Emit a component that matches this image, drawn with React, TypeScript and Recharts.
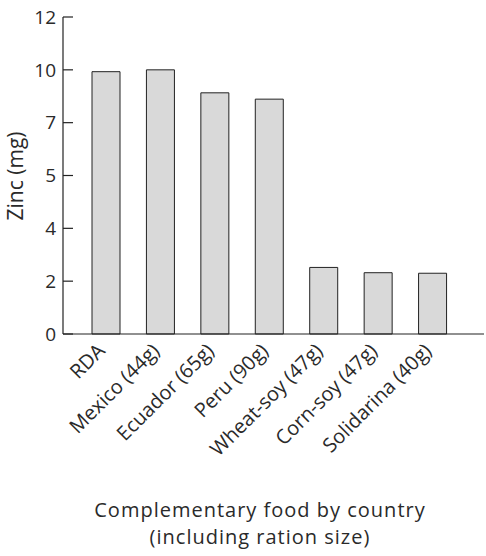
import React from 'react';
import { BarChart, Bar, XAxis, YAxis, Label } from 'recharts';

// categories along the x axis (rotated labels)
const categories = [
  'RDA',
  'Mexico (44g)',
  'Ecuador (65g)',
  'Peru (90g)',
  'Wheat-soy (47g)',
  'Corn-soy (47g)',
  'Solidarina (40g)'
];

// zinc content in mg
const zincValues = [9.93, 10.0, 9.13, 8.89, 2.52, 2.32, 2.3];

// the y axis is evenly spaced 0..12, but printed with these labels
const yTickValues = [0, 2, 4, 6, 8, 10, 12];
const yTickLabels = ['0', '2', '4', '5', '7', '10', '12'];

// x axis title, two lines
const xTitleLines = ['Complementary food by country', '(including ration size)'];

const FONT = '"Open Sans", sans-serif';
const INK = '#222';
const TEXT = '#2a2a2a';

const data = categories.map((name, i) => ({ name, zinc: zincValues[i] }));

const RotatedTick = (props: any) => {
  const { x, y, payload } = props;
  return (
    <g transform={`translate(${x},${y})`}>
      <text
        x={0}
        y={0}
        textAnchor="end"
        transform="rotate(-45)"
        fill={TEXT}
        fontSize={20}
        fontFamily={FONT}
      >
        {payload.value}
      </text>
    </g>
  );
};

const XTitle = () => (
  <g>
    {xTitleLines.map((line, i) => (
      <text
        key={line}
        x={260}
        y={517 + i * 27}
        textAnchor="middle"
        fill={TEXT}
        fontSize={20}
        letterSpacing={1}
        fontFamily={FONT}
      >
        {line}
      </text>
    ))}
  </g>
);

const YTitle = () => (
  <text
    x={23}
    y={176}
    textAnchor="middle"
    transform="rotate(-90, 23, 176)"
    fill={TEXT}
    fontSize={21}
    fontFamily={FONT}
  >
    Zinc (mg)
  </text>
);

const App: React.FC = () => {
  return (
    <div style={{ position: 'absolute', left: 0, top: 0, background: '#fff' }}>
      <BarChart
        width={486}
        height={556}
        data={data}
        margin={{ top: 17, right: 2, bottom: 0, left: 0 }}
        barSize={28}
      >
        <XAxis
          dataKey="name"
          interval={0}
          height={222}
          padding={{ left: 16, right: 24 }}
          tickLine={false}
          tickSize={0}
          tickMargin={18}
          tick={<RotatedTick />}
          axisLine={{ stroke: INK, strokeWidth: 1.2 }}
        >
          <Label content={<XTitle />} />
        </XAxis>
        <YAxis
          width={63}
          domain={[0, 12]}
          ticks={yTickValues}
          tickFormatter={(v: number) => yTickLabels[yTickValues.indexOf(v)]}
          tickSize={-10}
          tickMargin={17}
          tickLine={{ stroke: INK, strokeWidth: 1.2 }}
          axisLine={{ stroke: INK, strokeWidth: 1.2 }}
          tick={{ fill: TEXT, fontSize: 19, fontFamily: FONT }}
          interval={0}
        >
          <Label content={<YTitle />} />
        </YAxis>
        <Bar
          dataKey="zinc"
          fill="#d9d9d9"
          stroke={INK}
          strokeWidth={1}
          isAnimationActive={false}
        />
      </BarChart>
    </div>
  );
};

export default App;
